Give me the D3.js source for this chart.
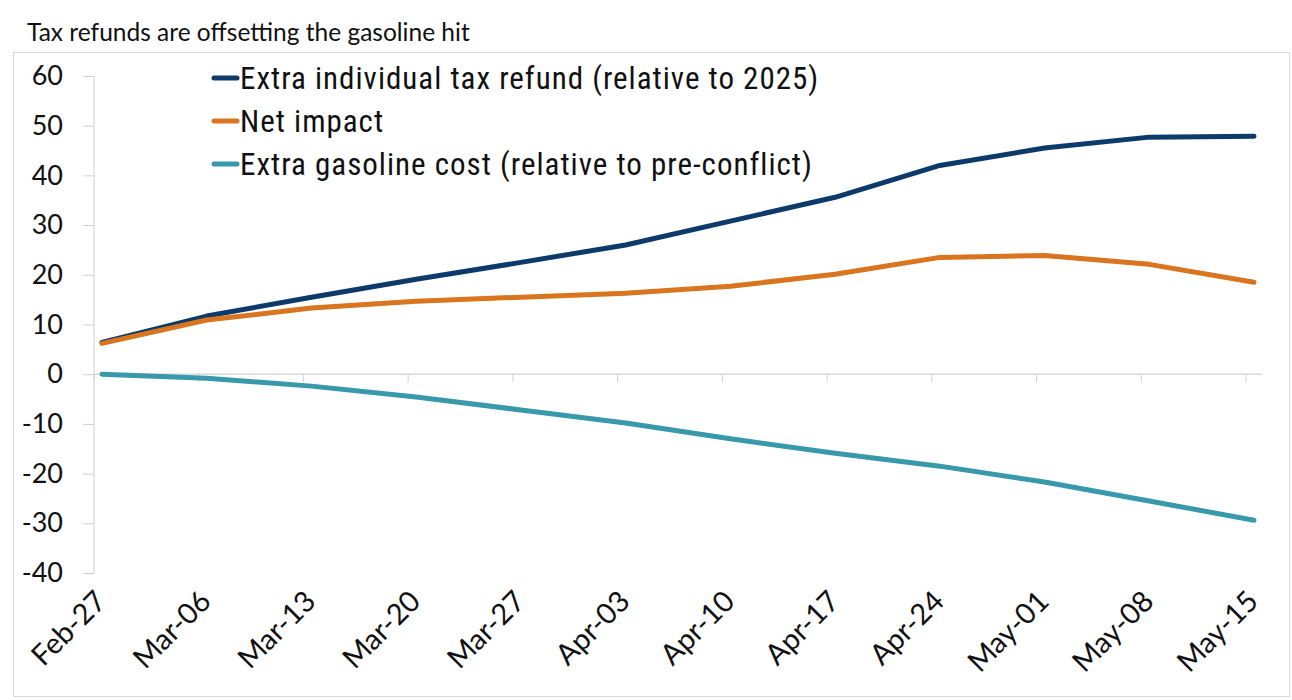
<!DOCTYPE html>
<html>
<head>
<meta charset="utf-8">
<title>Tax refunds are offsetting the gasoline hit</title>
<style>
  body { margin: 0; background: #fff; }
  .tick text { font-family: Lato, "Open Sans", sans-serif; }
</style>
</head>
<body>
<svg width="1292" height="700"></svg>
<script src="https://d3js.org/d3.v7.min.js"></script>
<script>

// weeks on the x axis
var weeks = ["Feb-27", "Mar-06", "Mar-13", "Mar-20", "Mar-27", "Apr-03",
             "Apr-10", "Apr-17", "Apr-24", "May-01", "May-08", "May-15"];

// values
var taxRefund = [6.4, 11.7, 15.5, 19.1, 22.5, 26.0, 30.8, 35.6, 42.0, 45.5, 47.7, 47.9];
var netImpact = [6.2, 10.9, 13.3, 14.7, 15.5, 16.3, 17.7, 20.1, 23.5, 23.9, 22.1, 18.5];
var gasCost   = [0.0, -0.8, -2.4, -4.6, -7.2, -9.8, -13.0, -15.9, -18.5, -21.7, -25.5, -29.4];

var yTicks = [60, 50, 40, 30, 20, 10, 0, -10, -20, -30, -40];

var seriesNames = ["Extra individual tax refund (relative to 2025)",
                   "Net impact",
                   "Extra gasoline cost (relative to pre-conflict)"];
var seriesColors = ["#0c3a6b", "#d9741f", "#3799ab"];
var seriesValues = [taxRefund, netImpact, gasCost];

var svg = d3.select("svg");

// outer frame
svg.append("rect")
    .attr("x", 13.5).attr("y", 52.5)
    .attr("width", 1276).attr("height", 644)
    .attr("fill", "none").attr("stroke", "#d9d9d9");

svg.append("text")
    .attr("x", 27).attr("y", 41)
    .style("font-family", "Lato, 'Open Sans', sans-serif")
    .style("font-size", "24.5px")
    .attr("fill", "#111")
    .text("Tax refunds are offsetting the gasoline hit");

var x = d3.scalePoint().domain(weeks).range([102, 1254]);
var y = d3.scaleLinear().domain([-40, 60]).range([573, 76]);
var step = x.step();

// y axis
var yAxis = svg.append("g")
    .attr("transform", "translate(94,0)")
    .call(d3.axisLeft(y).tickValues(yTicks).tickSize(11).tickPadding(20)
      .tickFormat(function(d) { return String(d); }));
yAxis.select(".domain").attr("stroke", "#d0d0d0").attr("d", "M0," + y(60) + "V" + y(-40));
yAxis.selectAll(".tick line").attr("stroke", "#d0d0d0");
yAxis.selectAll(".tick text").style("font-size", "27px").attr("fill", "#111");

// zero line with category ticks
svg.append("line")
    .attr("x1", 94).attr("x2", 1262)
    .attr("y1", y(0)).attr("y2", y(0))
    .attr("stroke", "#d0d0d0").attr("stroke-width", 1.2);

svg.selectAll(".xtick")
    .data(weeks)
    .enter().append("line")
      .attr("class", "xtick")
      .attr("x1", function(d, i) { return 94 + i * step; })
      .attr("x2", function(d, i) { return 94 + i * step; })
      .attr("y1", y(0)).attr("y2", y(0) + 8)
      .attr("stroke", "#d0d0d0");

// rotated week labels
svg.selectAll(".xlabel")
    .data(weeks)
    .enter().append("text")
      .attr("class", "xlabel")
      .attr("transform", function(d, i) { return "translate(" + (108 + i * step) + ",603) rotate(-45)"; })
      .attr("text-anchor", "end")
      .style("font-family", "Lato, 'Open Sans', sans-serif")
      .style("font-size", "29px")
      .attr("fill", "#111")
      .text(function(d) { return d; });

// lines
var line = d3.line()
    .x(function(d, i) { return x(weeks[i]); })
    .y(function(d) { return y(d); });

svg.selectAll(".series")
    .data(seriesValues)
    .enter().append("path")
      .attr("class", "series")
      .attr("d", line)
      .attr("fill", "none")
      .attr("stroke", function(d, i) { return seriesColors[i]; })
      .attr("stroke-width", 5)
      .attr("stroke-linecap", "round")
      .attr("stroke-linejoin", "round");

// legend
var legend = svg.selectAll(".legend")
    .data(seriesNames)
    .enter().append("g")
      .attr("class", "legend")
      .attr("transform", function(d, i) { return "translate(212," + (78 + i * 43) + ")"; });

legend.append("line")
    .attr("x1", 2).attr("x2", 25)
    .attr("stroke", function(d, i) { return seriesColors[i]; })
    .attr("stroke-width", 5)
    .attr("stroke-linecap", "round");

legend.append("text")
    .attr("x", 28).attr("y", 11)
    .style("font-family", "'Liberation Sans Narrow', 'Roboto Condensed', Roboto, sans-serif")
    .style("font-size", "31px")
    .style("letter-spacing", "1px")
    .attr("fill", "#111")
    .text(function(d) { return d; });

</script>
</body>
</html>
